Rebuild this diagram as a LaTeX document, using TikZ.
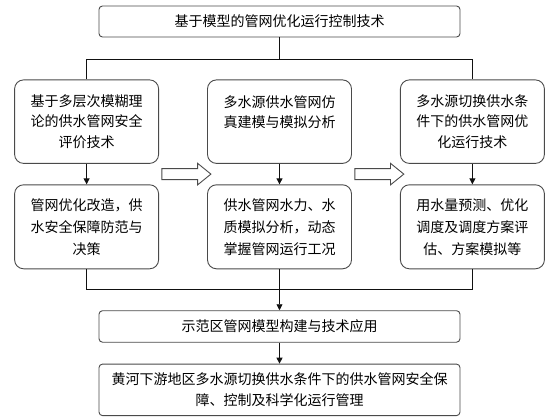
\documentclass[tikz,border=0pt]{standalone}
\usepackage{fontspec}
\usepackage{tikz}
\usetikzlibrary{arrows.meta,positioning,shapes.arrows,calc}
\newfontfamily\cjk{Noto Sans CJK SC}
\definecolor{Frame}{HTML}{4A4A4A}
\definecolor{Wire}{HTML}{111111}

\begin{document}
\begin{tikzpicture}[
  x=1pt,y=1pt,
  node distance=42pt and 48pt,
  every node/.style={font=\cjk\fontsize{14}{20.3}\selectfont,text=black},
  widebox/.style={rectangle,rounded corners=3.5pt,draw=Frame,line width=0.9pt,
    minimum width=361pt,minimum height=31pt,align=center,inner sep=0pt},
  topbox/.style={rectangle,rounded corners=9pt,draw=Frame,line width=0.9pt,
    minimum width=144pt,minimum height=83.5pt,text width=136pt,align=center,inner sep=0pt},
  lowbox/.style={topbox,minimum height=84pt,
    font=\cjk\fontsize{14}{22}\selectfont},
  blockarrow/.style={single arrow,draw=Frame,fill=white,line width=0.9pt,
    minimum height=49pt,single arrow head extend=5.3pt,
    single arrow tip angle=78,inner xsep=0pt,inner ysep=5pt},
  line/.style={line width=0.9pt,color=Wire},
  arrow/.style={line,-{Triangle[length=6pt,width=6pt]}}
]
\useasboundingbox (0,0) rectangle (549,-420);
\node[widebox] (top) at (279.5,-21.5) {基于模型的管网优化运行控制技术};
\node[topbox,below=of top] (m1) {多水源供水管网仿\\真建模与模拟分析\\\mbox{}};
\node[topbox,left=of m1] (l1) {基于多层次模糊理\\论的供水管网安全\\评价技术};
\node[topbox,right=of m1] (r1) {多水源切换供水条\\件下的供水管网优\\化运行技术};
\node[lowbox,below=20.5pt of m1] (m2) {供水管网水力、水\\质模拟分析，动态\\掌握管网运行工况};
\node[lowbox,below=20.5pt of l1] (l2) {管网优化改造，供\\水安全保障防范与\\决策};
\node[lowbox,below=20.5pt of r1] (r2) {用水量预测、优化\\调度及调度方案评\\估、方案模拟等};
\node[widebox,minimum height=31.5pt,below=41pt of m2] (app) {示范区管网模型构建与技术应用};
\node[widebox,minimum height=51.5pt,below=21pt of app,
  font=\cjk\fontsize{14}{21}\selectfont] (goal)
  {黄河下游地区多水源切换供水条件下的供水管网安全保\\障、控制及科学化运行管理};
% hollow arrows between the columns
\node[blockarrow] (ar1) at ($(l1.south east)!0.5!(m2.north west)$) {};
\node[blockarrow] (ar2) at ($(m1.south east)!0.5!(r2.north west)$) {};
% connectors
\draw[line] (top.south) -- ++(0,-22) coordinate (bus1);
\draw[line] (l1.north) |- (bus1) -| (r1.north);
\foreach \c in {l,m,r}
  \draw[arrow] (\c1) -- (\c2);
\draw[line] (m2.south) -- ++(0,-20) coordinate (bus2);
\draw[line] (l2.south) |- (bus2) -| (r2.south);
\draw[arrow] (bus2) -- (app);
\draw[arrow] (app) -- (goal);
\end{tikzpicture}
\end{document}
